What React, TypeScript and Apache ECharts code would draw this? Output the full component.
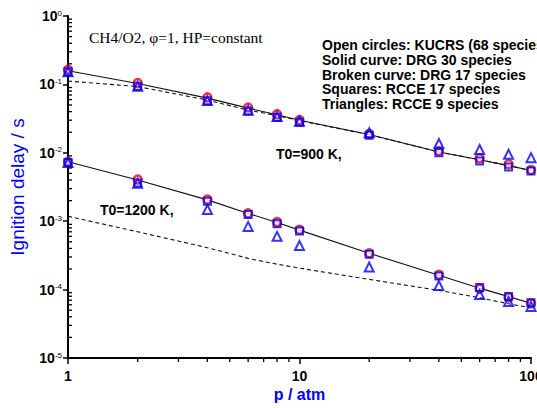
import React, { useEffect, useRef } from "react";
import * as echarts from "echarts";

// Pressure (atm)
const pressures = [1, 2, 4, 6, 8, 10, 20, 40, 60, 80, 100];

// T0 = 900 K
const kucrs900 = [0.164, 0.105, 0.0645, 0.046, 0.0367, 0.03, 0.0188, 0.0106, 0.0083, 0.0068, 0.0056];
const rcce17_900 = [0.153, 0.094, 0.0575, 0.041, 0.0332, 0.028, 0.0181, 0.01, 0.0076, 0.0062, 0.0054];
const rcce9_900 = [0.153, 0.094, 0.058, 0.042, 0.034, 0.029, 0.0196, 0.0137, 0.0112, 0.0095, 0.0085];
const drg30_900 = [0.158, 0.103, 0.063, 0.045, 0.036, 0.03, 0.0185, 0.0103, 0.0079, 0.0065, 0.0055];
const drg17_900 = [0.112, 0.093, 0.059, 0.042, 0.035, 0.0295, 0.0184, 0.0103, 0.0079, 0.0065, 0.0055];

// T0 = 1200 K
const kucrs1200 = [0.0074, 0.00406, 0.00207, 0.0013, 0.00097, 0.00075, 0.00034, 0.000165, 0.000103, 0.000077, 0.000063];
const rcce17_1200 = [0.0072, 0.00363, 0.00195, 0.00125, 0.00092, 0.00072, 0.000328, 0.000158, 0.000107, 0.000079, 0.0000645];
const rcce9_1200 = [0.0072, 0.0036, 0.00148, 0.00084, 0.0006, 0.00044, 0.000214, 0.000115, 0.000085, 0.000067, 0.0000568];
const drg30_1200 = [0.0074, 0.004, 0.00205, 0.0013, 0.00096, 0.00074, 0.00034, 0.000162, 0.000105, 0.000079, 0.000063];
const drg17_1200 = [0.00118, 0.0007, 0.00041, 0.000286, 0.000235, 0.000206, 0.000141, 0.0000973, 0.000076, 0.000062, 0.000054];

// Axis ranges and minor tick multipliers
const xMin = 1;
const xMax = 100;
const yMin = 1e-5;
const yMax = 1;
const minorMultipliers = [2, 3, 4, 5, 6, 7, 8, 9];
const xDecades = [1, 10];
const yDecades = [1e-5, 1e-4, 1e-3, 1e-2, 1e-1];

const titleText = "CH4/O2, \u03C6=1, HP=constant";
const legendLines = [
  "Open circles: KUCRS (68 species)",
  "Solid curve: DRG 30 species",
  "Broken curve: DRG 17 species",
  "Squares: RCCE 17 species",
  "Triangles: RCCE 9 species",
];
const label900 = "T0=900 K,";
const label1200 = "T0=1200 K,";
const xName = "p / atm";
const yName = "Ignition delay / s";

const SANS = "'Liberation Sans', Arial, sans-serif";
const SERIF = "'Liberation Serif', 'Times New Roman', serif";

const pairs = (ys: number[]) => pressures.map((p, i) => [p, ys[i]]);

export default function App() {
  const ref = useRef<HTMLDivElement>(null);

  useEffect(() => {
    if (!ref.current) return;
    const chart = echarts.init(ref.current, null, { renderer: "svg" });

    const xMinor: number[][] = [];
    xDecades.forEach((d) => minorMultipliers.forEach((m) => xMinor.push([m * d, yMin])));
    const yMinor: number[][] = [];
    yDecades.forEach((d) => minorMultipliers.forEach((m) => yMinor.push([xMin, m * d])));

    const lineSeries = (name: string, ys: number[], dashed: boolean) => ({
      name,
      type: "line",
      data: pairs(ys),
      showSymbol: false,
      symbol: "none",
      z: 2,
      lineStyle: { color: "#111", width: 1.1, type: dashed ? [4, 3] : "solid" },
    });

    const circleSeries = (name: string, ys: number[]) => ({
      name,
      type: "scatter",
      data: pairs(ys),
      symbol: "circle",
      symbolSize: 8,
      z: 3,
      itemStyle: { color: "#ffffff", borderColor: "#ff0000", borderWidth: 2.5 },
    });
    const squareSeries = (name: string, ys: number[]) => ({
      name,
      type: "scatter",
      data: pairs(ys),
      symbol: "rect",
      symbolSize: 7,
      z: 4,
      itemStyle: { color: "rgba(0,0,0,0)", borderColor: "#0000ff", borderWidth: 2 },
    });
    const triangleSeries = (name: string, ys: number[]) => ({
      name,
      type: "scatter",
      data: pairs(ys),
      symbol: "triangle",
      symbolSize: 9,
      z: 5,
      itemStyle: { color: "rgba(0,0,0,0)", borderColor: "#0000ff", borderWidth: 2 },
    });

    const option: any = {
      animation: false,
      backgroundColor: "#ffffff",
      grid: {
        left: 68,
        right: 6,
        top: 16,
        bottom: 50,
        containLabel: false,
        outerBoundsMode: "none",
      },
      xAxis: {
        type: "log",
        logBase: 10,
        min: xMin,
        max: xMax,
        name: xName,
        nameLocation: "middle",
        nameGap: 28,
        nameMoveOverlap: false,
        nameTextStyle: { color: "#0000ff", fontSize: 16, fontWeight: "bold", fontFamily: SANS },
        axisLine: { lineStyle: { color: "#000", width: 2 } },
        axisTick: { show: true, length: 6, lineStyle: { color: "#000", width: 1.5 } },
        axisLabel: {
          color: "#000",
          fontSize: 14,
          fontWeight: "bold",
          fontFamily: SANS,
          margin: 11,
          showMinLabel: true,
          showMaxLabel: true,
          formatter: (v: number) => String(Math.round(v)),
        },
        splitLine: { show: false },
      },
      yAxis: {
        type: "log",
        logBase: 10,
        min: yMin,
        max: yMax,
        name: yName,
        nameLocation: "middle",
        nameGap: 41,
        nameMoveOverlap: false,
        nameTextStyle: { color: "#0000ff", fontSize: 19, fontFamily: SANS },
        axisLine: { lineStyle: { color: "#000", width: 2 } },
        axisTick: { show: true, length: 5, lineStyle: { color: "#000", width: 1.5 } },
        axisLabel: {
          margin: 6,
          showMinLabel: true,
          showMaxLabel: true,
          formatter: (v: number) => `{b|10}{s|${Math.round(Math.log10(v))}}`,
          rich: {
            b: { fontSize: 14, fontWeight: "bold", fontFamily: SANS, color: "#000", lineHeight: 14 },
            s: { fontSize: 8, fontFamily: SANS, color: "#000", verticalAlign: "top", lineHeight: 8 },
          },
        },
        splitLine: { show: false },
      },
      graphic: [
        {
          type: "text",
          x: 89,
          y: 37,
          style: { text: titleText, font: `15.5px ${SERIF}`, fill: "#000", verticalAlign: "middle" },
        },
        {
          type: "text",
          x: 322,
          y: 38,
          style: {
            text: legendLines.join("\n"),
            font: `bold 14px ${SANS}`,
            lineHeight: 14.7,
            fill: "#000",
            verticalAlign: "top",
          },
        },
        {
          type: "text",
          x: 276,
          y: 154,
          style: { text: label900, font: `bold 14px ${SANS}`, fill: "#000", verticalAlign: "middle" },
        },
        {
          type: "text",
          x: 100,
          y: 210,
          style: { text: label1200, font: `bold 14px ${SANS}`, fill: "#000", verticalAlign: "middle" },
        },
      ],
      series: [
        lineSeries("DRG 30 (900 K)", drg30_900, false),
        lineSeries("DRG 17 (900 K)", drg17_900, true),
        lineSeries("DRG 30 (1200 K)", drg30_1200, false),
        lineSeries("DRG 17 (1200 K)", drg17_1200, true),
        circleSeries("KUCRS (900 K)", kucrs900),
        circleSeries("KUCRS (1200 K)", kucrs1200),
        squareSeries("RCCE 17 (900 K)", rcce17_900),
        squareSeries("RCCE 17 (1200 K)", rcce17_1200),
        triangleSeries("RCCE 9 (900 K)", rcce9_900),
        triangleSeries("RCCE 9 (1200 K)", rcce9_1200),
        {
          type: "custom",
          coordinateSystem: "cartesian2d",
          data: xMinor,
          clip: false,
          silent: true,
          z: 1,
          renderItem: (_p: any, api: any) => {
            const c = api.coord([api.value(0), api.value(1)]);
            return {
              type: "line",
              shape: { x1: c[0], y1: c[1], x2: c[0], y2: c[1] + 4 },
              style: { stroke: "#000", lineWidth: 1.3 },
            };
          },
        },
        {
          type: "custom",
          coordinateSystem: "cartesian2d",
          data: yMinor,
          clip: false,
          silent: true,
          z: 1,
          renderItem: (_p: any, api: any) => {
            const c = api.coord([api.value(0), api.value(1)]);
            return {
              type: "line",
              shape: { x1: c[0], y1: c[1], x2: c[0] + 4, y2: c[1] },
              style: { stroke: "#000", lineWidth: 1.3 },
            };
          },
        },
      ],
    };

    chart.setOption(option);
    return () => chart.dispose();
  }, []);

  return (
    <div
      ref={ref}
      style={{ position: "absolute", left: 0, top: 0, width: 537, height: 408, background: "#fff" }}
    />
  );
}
